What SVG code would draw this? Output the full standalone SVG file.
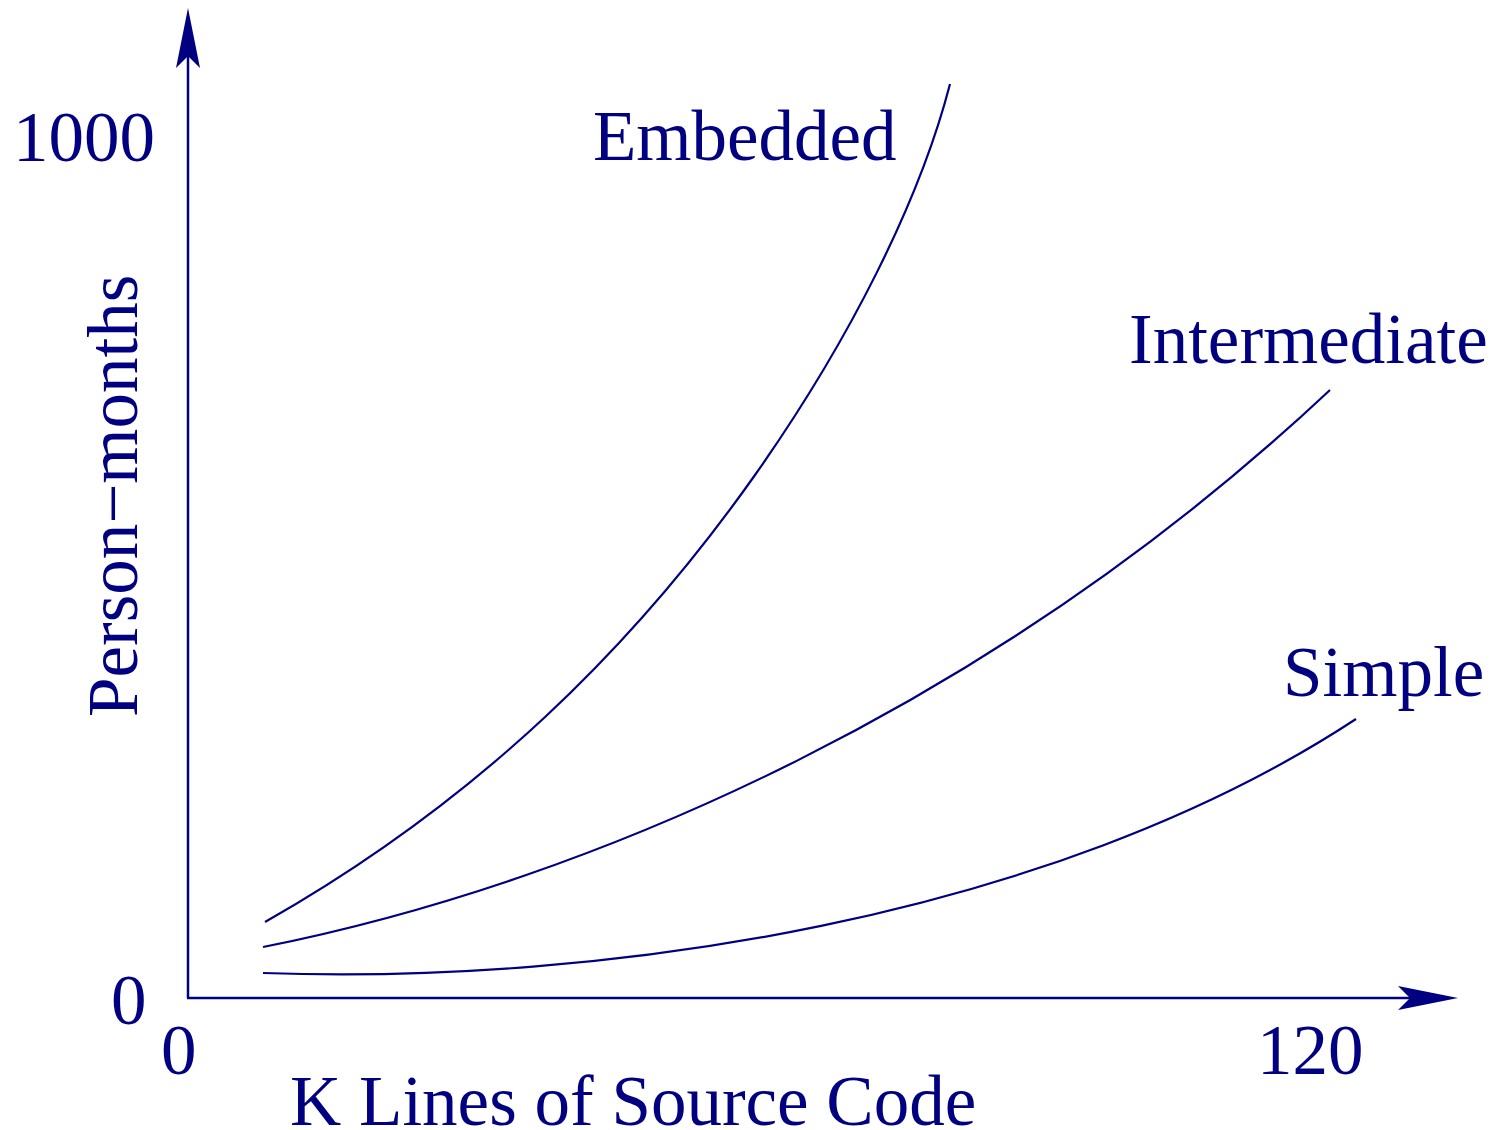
<svg xmlns="http://www.w3.org/2000/svg" width="1494" height="1130" viewBox="0 0 1494 1130">
<style>
text{font-family:"Liberation Serif","Times New Roman",serif;font-size:71px;fill:#000080}
.axis{stroke:#000080;stroke-width:2.5;fill:none}
.curve{stroke:#000080;stroke-width:2.2;fill:none}
</style>
<defs>
<marker id="arr" markerUnits="userSpaceOnUse" markerWidth="80" markerHeight="40" refX="0" refY="0" orient="auto" overflow="visible">
<path d="M48,0 L-12,-12 L0,0 L-12,12 Z" fill="#000080"/>
</marker>
</defs>
<g id="axes">
<path id="y-axis" class="axis" d="M188,998 L188,56" marker-end="url(#arr)"/>
<path id="x-axis" class="axis" d="M187,998 L1410,998" marker-end="url(#arr)"/>
</g>
<g id="connectors">
<path id="embedded-curve" class="curve" d="M265,922 C480,800 635,645 755,475 C850,340 920,200 950,84"/>
<path id="intermediate-curve" class="curve" d="M263,947 C600,880 1000,700 1330,390"/>
<path id="simple-curve" class="curve" d="M263,973 C600,985 1050,920 1356,719"/>
</g>
<g id="labels">
<text x="13" y="161">1000</text>
<text x="111" y="1024">0</text>
<text x="161" y="1074">0</text>
<text x="1257" y="1074">120</text>
<text x="290" y="1125">K Lines of Source Code</text>
<text transform="translate(137,717) rotate(-90)">Person−months</text>
</g>
<g id="node-embedded"><text x="593" y="160">Embedded</text></g>
<g id="node-intermediate"><text x="1129" y="363">Intermediate</text></g>
<g id="node-simple"><text x="1283" y="696">Simple</text></g>
</svg>
